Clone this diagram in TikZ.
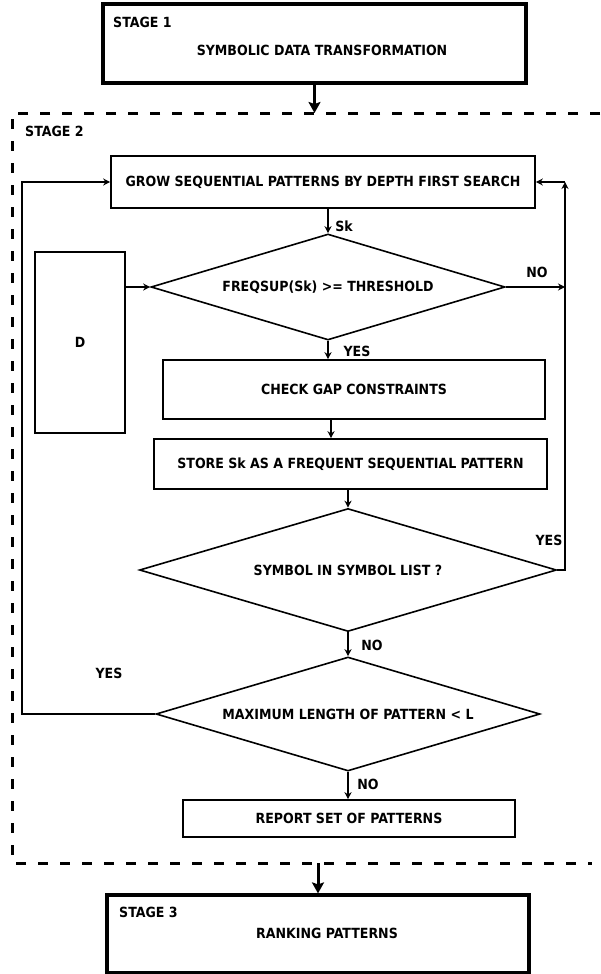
\documentclass[tikz,border=0pt]{standalone}
\usepackage{fontspec}
\setmainfont{DejaVu Sans Condensed}
\usetikzlibrary{shapes.geometric,arrows.meta,calc}
\begin{document}
\begin{tikzpicture}[x=1pt,y=-1pt,
  every node/.style={font=\fontsize{14}{16}\selectfont\bfseries, inner sep=0pt},
  stagebox/.style={draw, line width=3.2pt, rectangle},
  procbox/.style={draw, line width=1.6pt, rectangle},
  decision/.style={draw, line width=1.6pt, diamond},
  flow/.style={line width=1.5pt, -{Stealth[length=7pt,width=7pt]}},
  bigflow/.style={line width=3pt, -{Stealth[length=11pt,width=12pt,inset=2pt]}},
  frame/.style={line width=3pt, dash pattern=on 10pt off 12pt},
  tag/.style={anchor=west}]
\useasboundingbox (0,0) rectangle (600,974);

% Stage 1
\node[stagebox, minimum width=423pt, minimum height=79pt] (stage1) at (314.5,43.5) {};
\node[tag] (s1tag) at (113,22) {STAGE 1};
\node (s1txt) at (322,50) {SYMBOLIC DATA TRANSFORMATION};

% Stage 2 frame (open on the right)
\coordinate (frameTL) at (12,113);
\coordinate (frameTR) at (600,113);
\coordinate (frameBL) at (12,863);
\coordinate (frameBR) at (592,863);
\draw[frame] (frameTR) -- (frameTL) -- (frameBL) -- (frameBR);
\node[tag] (s2tag) at (25,131) {STAGE 2};

% Stage 2 contents
\node[procbox, minimum width=424pt, minimum height=52pt] (grow) at (323,182)
  {GROW SEQUENTIAL PATTERNS BY DEPTH FIRST SEARCH};
\node[decision, aspect=3.34, minimum width=354pt, minimum height=106pt] (freq) at (328,287)
  {FREQSUP(Sk) >= THRESHOLD};
\node[procbox, minimum width=90pt, minimum height=181pt] (dbox) at (80,342.5) {D};
\node[procbox, minimum width=382pt, minimum height=59pt] (check) at (354,389.5)
  {CHECK GAP CONSTRAINTS};
\node[procbox, minimum width=393pt, minimum height=50pt] (store) at (350.5,464)
  {STORE Sk AS A FREQUENT SEQUENTIAL PATTERN};
\node[decision, aspect=3.39, minimum width=417pt, minimum height=123pt] (symbol) at (348,570)
  {SYMBOL IN SYMBOL LIST ?};
\node[decision, aspect=3.37, minimum width=384pt, minimum height=114pt] (maxlen) at (348,714)
  {MAXIMUM LENGTH OF PATTERN < L};
\node[procbox, minimum width=332pt, minimum height=37pt] (report) at (349,818.5)
  {REPORT SET OF PATTERNS};

\coordinate (loopL) at (22,0);
\coordinate (loopR) at (565,0);

% Connectors
\draw[flow] (freq.north |- grow.south) -- (freq.north);
\draw[flow] (dbox.east |- freq.west) -- (freq.west);
\draw[flow] (freq.south) -- (freq.south |- check.north);
\draw[flow] ($(check.south)+(-23,0)$) -- ($(store.north)+(-19.5,0)$);
\draw[flow] (store.south -| symbol.north) -- (symbol.north);
\draw[flow] (symbol.south) -- (maxlen.north);
\draw[flow] (maxlen.south) -- (maxlen.south |- report.north);
\draw[flow] (freq.east) -- (freq.east -| loopR);
\draw[flow] (symbol.east) -- (symbol.east -| loopR) -- (grow.east -| loopR);
\draw[flow] (grow.east -| loopR) -- (grow.east);
\draw[flow] (maxlen.west) -- (maxlen.west -| loopL) -- (grow.west -| loopL) -- (grow.west);

% Branch labels
\node (lsk) at (344,226) {Sk};
\node (lno1) at (537,272) {NO};
\node (lyes1) at (357,351) {YES};
\node (lyes2) at (549,540) {YES};
\node (lno2) at (372,645) {NO};
\node (lyes3) at (109,673) {YES};
\node (lno3) at (368,784) {NO};

% Stage 3
\node[stagebox, minimum width=422pt, minimum height=78pt] (stage3) at (318,934) {};
\node[tag] (s3tag) at (119,912) {STAGE 3};
\node (s3txt) at (327,933) {RANKING PATTERNS};

% Stage arrows
\draw[bigflow] (stage1.south) -- (stage1.south |- frameTL);
\draw[bigflow] (stage3.north |- frameBL) -- (stage3.north);
\end{tikzpicture}
\end{document}
